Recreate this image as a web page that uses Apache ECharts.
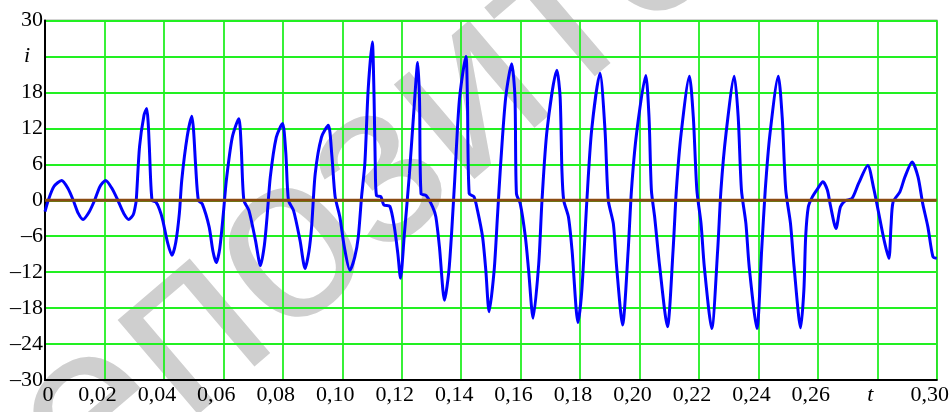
<!DOCTYPE html>
<html>
<head>
<meta charset="utf-8">
<script src="https://cdn.jsdelivr.net/npm/echarts@6/dist/echarts.min.js"></script>
<style>
  html, body { margin: 0; padding: 0; background: #fff; }
  #chart { width: 952px; height: 412px; }
</style>
</head>
<body>
<div id="chart"></div>
<script>
var chart = echarts.init(document.getElementById('chart'));

// time, s
var tValues = [
  0, 0.0011, 0.0030, 0.0056, 0.0077, 0.0095, 0.0112, 0.0128, 0.0148, 0.0167,
  0.0185, 0.0204, 0.0225, 0.0245, 0.0265, 0.0282, 0.0297, 0.0303, 0.0307, 0.0318,
  0.0333, 0.0342, 0.0347, 0.0351, 0.0360, 0.0373, 0.0385, 0.0396, 0.0412, 0.0427,
  0.0440, 0.0452, 0.0460, 0.0478, 0.0494, 0.0500, 0.0507, 0.0516, 0.0529, 0.0552,
  0.0565, 0.0576, 0.0588, 0.0600, 0.0610, 0.0630, 0.0652, 0.0660, 0.0669, 0.0686,
  0.0708, 0.0725, 0.0738, 0.0747, 0.0758, 0.0778, 0.0799, 0.0810, 0.0819, 0.0836,
  0.0858, 0.0875, 0.0888, 0.0897, 0.0909, 0.0930, 0.0953, 0.0965, 0.0976, 0.0992,
  0.1007, 0.1026, 0.1042, 0.1054, 0.1065, 0.1076, 0.1087, 0.1101, 0.1107, 0.1111,
  0.1115, 0.1130, 0.1140, 0.1160, 0.1175, 0.1187, 0.1196, 0.1209, 0.1226, 0.1241,
  0.1254, 0.1260, 0.1265, 0.1282, 0.1304, 0.1315, 0.1327, 0.1344, 0.1360, 0.1377,
  0.1394, 0.1416, 0.1421, 0.1427, 0.1443, 0.1455, 0.1472, 0.1483, 0.1494, 0.1511,
  0.1522, 0.1533, 0.1550, 0.1570, 0.1581, 0.1586, 0.1599, 0.1616, 0.1627, 0.1642,
  0.1661, 0.1672, 0.1689, 0.1722, 0.1733, 0.1739, 0.1745, 0.1761, 0.1773, 0.1793,
  0.1806, 0.1823, 0.1839, 0.1867, 0.1884, 0.1895, 0.1912, 0.1923, 0.1943, 0.1962,
  0.1973, 0.1990, 0.2021, 0.2032, 0.2040, 0.2051, 0.2068, 0.2094, 0.2113, 0.2124,
  0.2140, 0.2168, 0.2181, 0.2193, 0.2207, 0.2218, 0.2243, 0.2263, 0.2274, 0.2291,
  0.2319, 0.2332, 0.2343, 0.2358, 0.2369, 0.2395, 0.2411, 0.2423, 0.2439, 0.2467,
  0.2480, 0.2492, 0.2508, 0.2520, 0.2542, 0.2553, 0.2559, 0.2568, 0.2582, 0.2599,
  0.2617, 0.2632, 0.2642, 0.2661, 0.2676, 0.2692, 0.2715, 0.2737, 0.2768, 0.2787,
  0.2803, 0.2823, 0.2839, 0.2846, 0.2853, 0.2876, 0.2893, 0.2917, 0.2937, 0.2953,
  0.2970, 0.2987, 0.3000
];

// current i, A
var iValues = [
  -1.9, 0, 2.3, 3.3, 2.0, 0, -2.2, -3.2, -2.0, 0,
  2.3, 3.3, 2.0, 0, -2.2, -3.2, -2.4, -1.2, 0, 8.9,
  14.2, 15.3, 13, 8.9, 0, -0.3, -1.5, -3.3, -7.0, -9.2,
  -7.0, -2.2, 3.3, 10.5, 14.0, 11.5, 5.6, 0, -0.6, -4.4,
  -8.5, -10.4, -8.0, -2.2, 3.3, 10.5, 13.6, 9.0, 0, -1.7,
  -6.7, -10.9, -7.5, -2.8, 3.9, 10.5, 12.8, 8.0, 0, -1.7,
  -6.7, -11.4, -8.5, -4.4, 4.4, 10.5, 12.5, 7.5, 0.6, -2.8,
  -7.8, -11.7, -9.5, -6.1, 0.6, 6.1, 18.3, 26.4, 17.2, 6.1,
  0.8, 0.6, -0.8, -1.0, -4.4, -8.9, -13.0, -5.6, 4.4, 15.0,
  23.0, 16.7, 1.1, 0.8, -1.1, -2.8, -7.8, -16.7, -11.1, 2.2,
  16.7, 24.0, 17.2, 1.1, 0.6, -1.7, -6.1, -11.7, -18.6, -11.7,
  -2.8, 6.1, 17.2, 22.8, 17.2, 1.1, -0.6, -6.1, -11.7, -19.7,
  -10.6, 0, 11.7, 21.7, 17.2, 5.0, 0, -2.8, -8.3, -20.4,
  -15.0, 0, 11.7, 21.2, 11.7, 0, -3.9, -11.1, -20.8, -8.3,
  1.7, 11.1, 20.8, 13.9, 1.7, -2.8, -11.1, -21.1, -8.3, 1.7,
  11.1, 20.7, 13.9, 1.7, -3.9, -11.1, -21.4, -8.3, 1.7, 11.1,
  20.7, 13.9, 1.7, -3.9, -11.1, -21.4, -8.3, 1.7, 11.1, 20.7,
  13.9, 1.7, -3.9, -11.1, -21.3, -15.0, -6.1, -1.1, 0.6, 1.9,
  3.1, 1.7, -0.8, -4.7, -1.1, -0.1, 0.3, 2.8, 5.8, 2.2,
  -1.7, -6.7, -9.7, -4.4, -0.3, 1.4, 3.9, 6.4, 3.9, -0.6,
  -4.4, -9.4, -9.7
];

// zero reference line
var zeroT = [0, 0.30];
var zeroI = [0, 0];

var xTickLabels = ['{first|0}', '0,02', '0,04', '0,06', '0,08', '0,10', '0,12', '0,14',
  '0,16', '0,18', '0,20', '0,22', '0,24', '0,26', '{it|t}', '0,30'];
var yTickLabels = ['\u201330', '\u201324', '\u201318', '\u201312', '\u20136', '0',
  '6', '12', '18', '{it|i}', '30'];

var curve = [];
for (var k = 0; k < tValues.length; k++) {
  curve.push([tValues[k], iValues[k]]);
}
var zeroLine = [];
for (var z = 0; z < zeroT.length; z++) {
  zeroLine.push([zeroT[z], zeroI[z]]);
}

var gridGreen = '#22f022';
var labelFont = 'Liberation Serif';

var option = {
  animation: false,
  backgroundColor: '#fff',
  grid: {
    left: 45,
    right: 10,
    top: 20.5,
    bottom: 32,
    show: true,
    borderColor: '#555',
    borderWidth: 1.5,
    backgroundColor: 'transparent'
  },
  graphic: [
    {
      // repository watermark
      type: 'text',
      x: 9,
      y: 645,
      rotation: 0.706,
      z: -10,
      silent: true,
      style: {
        text: 'Репозиторий',
        fontSize: 235,
        fontFamily: 'Liberation Sans',
        fill: '#cfcfcf',
        align: 'left',
        verticalAlign: 'bottom'
      }
    }
  ],
  xAxis: {
    type: 'value',
    min: 0,
    max: 0.3,
    interval: 0.02,
    axisLine: { show: true, onZero: false, lineStyle: { color: '#000', width: 2 } },
    axisTick: { show: false },
    splitLine: { show: true, lineStyle: { color: gridGreen, width: 1.8 } },
    axisLabel: {
      color: '#000',
      fontFamily: labelFont,
      fontSize: 22,
      margin: 4,
      padding: [0, 14, 0, 0],
      formatter: function (v) {
        return xTickLabels[Math.round(v / 0.02)];
      },
      rich: {
        it: { fontStyle: 'italic', fontFamily: labelFont, fontSize: 22, color: '#000' },
        first: { fontFamily: labelFont, fontSize: 22, color: '#000', padding: [0, 0, 0, 20] }
      }
    }
  },
  yAxis: {
    type: 'value',
    min: -30,
    max: 30,
    interval: 6,
    axisLine: { show: true, onZero: false, lineStyle: { color: '#000', width: 2 } },
    axisTick: { show: false },
    splitLine: { show: true, lineStyle: { color: gridGreen, width: 1.8 } },
    axisLabel: {
      color: '#000',
      fontFamily: labelFont,
      fontSize: 22,
      margin: 2,
      formatter: function (v) {
        return yTickLabels[Math.round((v + 30) / 6)];
      },
      rich: {
        it: { fontStyle: 'italic', fontFamily: labelFont, fontSize: 22, color: '#000', padding: [0, 13, 0, 0] }
      }
    }
  },
  series: [
    {
      type: 'line',
      data: curve,
      showSymbol: false,
      smooth: 0.25,
      lineStyle: { color: '#0000ff', width: 3 },
      z: 3
    },
    {
      type: 'line',
      data: zeroLine,
      showSymbol: false,
      lineStyle: { color: '#8a4a12', width: 3 },
      z: 4
    }
  ]
};

chart.setOption(option);
</script>
</body>
</html>
